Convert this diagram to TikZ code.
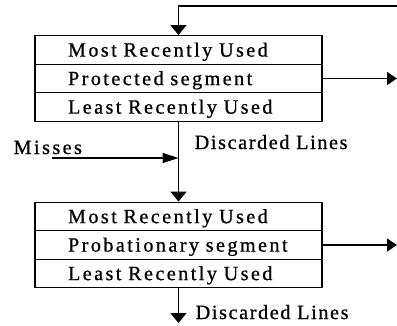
\documentclass[tikz,border=0pt]{standalone}
\usepackage{fontspec}
\setmainfont{Liberation Serif}[LetterSpace=12,FakeBold=0.8]
\newfontfamily\dlfont{Liberation Serif}[LetterSpace=8,FakeBold=0.8]
\usetikzlibrary{arrows.meta}
\begin{document}
\begin{tikzpicture}[x=1pt,y=-1pt,line width=1.4pt,
  row/.style={draw, minimum width=287pt, minimum height=28.5pt, inner ysep=0pt,
    inner xsep=33pt, text width=221pt, align=left, text height=13.2pt, text depth=0pt,
    font=\fontsize{20.2}{22}\selectfont},
  lbl/.style={inner sep=0pt, anchor=base west, font=\fontsize{20.2}{22}\selectfont},
  dlbl/.style={lbl, font=\dlfont\fontsize{20.2}{22}\selectfont},
  vconn/.style={-{Triangle[length=10pt,width=16pt]}},
  rconn/.style={-{Triangle[length=10pt,width=13pt]}},
  mconn/.style={-{Triangle[length=16pt,width=10pt]}}]
\useasboundingbox (0,0) rectangle (397,325);
% protected segment box
\node[row] (r1a) at (178.5,50) {Most Recently Used};
\node[row] (r1b) at (178.5,78.5) {Protected segment};
\node[row] (r1c) at (178.5,107) {Least Recently Used};
% probationary segment box
\node[row] (r2a) at (178.5,216.5) {Most Recently Used};
\node[row] (r2b) at (178.5,245) {Probationary segment};
\node[row] (r2c) at (178.5,273.5) {Least Recently Used};
% labels
\node[dlbl] (d1) at (194,149) {Discarded Lines};
\node[lbl] (mi) at (13,154) {Misses};
\node[dlbl] (d2) at (195,319) {Discarded Lines};
% connectors
\coordinate (tr) at (397,6);
\draw[vconn] (tr) -- (r1a.north |- tr) -- (r1a.north);
\coordinate (pe1) at (397,78.5);
\draw[rconn] (r1b.east) -- (pe1);
\draw[vconn] (r1c.south) -- (r2a.north);
\coordinate (ms) at (52,158);
\draw[mconn] (ms) -- (ms -| r1c.south);
\coordinate (pe2) at (397,245);
\draw[rconn] (r2b.east) -- (pe2);
\coordinate (bd) at (178.5,323);
\draw[vconn] (r2c.south) -- (bd);
\end{tikzpicture}
\end{document}
